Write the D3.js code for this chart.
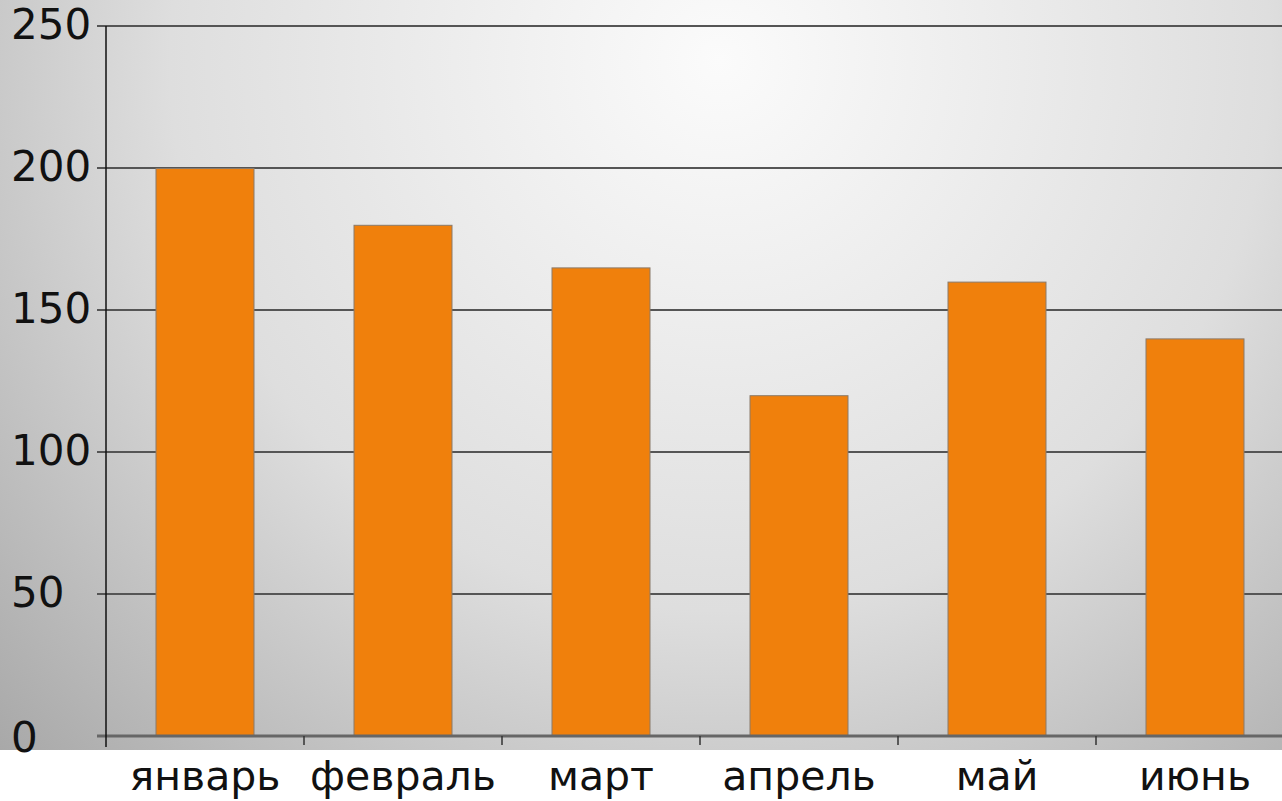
<!DOCTYPE html>
<html><head><meta charset="utf-8">
<script src="https://cdn.jsdelivr.net/npm/d3@7"></script>
<style>html,body{margin:0;padding:0;background:#fff;overflow:hidden}</style>
</head><body>
<svg id="c" width="1282" height="801"></svg>
<script>
const categories = ["январь","февраль","март","апрель","май","июнь"];
const values = [200, 180, 165, 120, 160, 140];
const yTicks = [0, 50, 100, 150, 200, 250];

const svg = d3.select("#c");
const W = 1282, H = 801;
const m = {left: 106, top: 26, bottom: 736};
const band = 198;

const defs = svg.append("defs");
const rg = defs.append("radialGradient").attr("id","bg")
  .attr("gradientUnits","userSpaceOnUse").attr("cx",720).attr("cy",60).attr("r",1000);
rg.append("stop").attr("offset","0").attr("stop-color","#fbfbfb");
rg.append("stop").attr("offset","0.55").attr("stop-color","#dedede");
rg.append("stop").attr("offset","1").attr("stop-color","#a8a8a8");
svg.append("rect").attr("x",0).attr("y",0).attr("width",W).attr("height",750).attr("fill","url(#bg)");

const x = d3.scaleBand().domain(categories).range([m.left, m.left + band*categories.length]).paddingInner(0.5).paddingOuter(0.25);
const xb = d3.scaleBand().domain(categories).range([m.left, m.left + band*categories.length]);
const y = d3.scaleLinear().domain([0,250]).range([m.bottom, m.top]);

// gridlines
svg.append("g").selectAll("line").data(yTicks).join("line")
  .attr("x1", 97).attr("x2", W).attr("y1", d=>y(d)).attr("y2", d=>y(d))
  .attr("stroke", "#555").attr("stroke-width", 2);

// bars
svg.append("g").selectAll("rect").data(values).join("rect")
  .attr("x",(d,i)=>x(categories[i])+0.5).attr("y",d=>y(d)+0.5)
  .attr("width",x.bandwidth()-1).attr("height",d=>y(0)-y(d)-0.5)
  .attr("fill","#f0800c").attr("stroke","#8a7a6a").attr("stroke-width",1);

// x axis line & ticks
svg.append("line").attr("x1",97).attr("x2",W).attr("y1",y(0)).attr("y2",y(0)).attr("stroke","#666").attr("stroke-width",3);
svg.append("g").selectAll("line").data(categories.slice(1)).join("line")
  .attr("x1",d=>xb(d)).attr("x2",d=>xb(d)).attr("y1",y(0)).attr("y2",y(0)+9)
  .attr("stroke","#333").attr("stroke-width",1.5);
// y axis line
svg.append("line").attr("x1",m.left).attr("x2",m.left).attr("y1",m.top).attr("y2",y(0)+11).attr("stroke","#111").attr("stroke-width",1.5);

// y labels (left-aligned in the reference)
svg.append("g").selectAll("text").data(yTicks).join("text")
  .attr("x",11).attr("y",d=>y(d) + (d===0 ? 4 : 1)).attr("text-anchor","start").attr("dominant-baseline","middle")
  .attr("font-family","DejaVu Sans").attr("font-size",42).attr("fill","#111").text(d=>d);

// x labels
svg.append("g").selectAll("text").data(categories).join("text")
  .attr("x",d=>xb(d)+xb.bandwidth()/2).attr("y",790).attr("text-anchor","middle")
  .attr("font-family","DejaVu Sans").attr("font-size",41).attr("fill","#111").text(d=>d);
</script>
</body></html>
